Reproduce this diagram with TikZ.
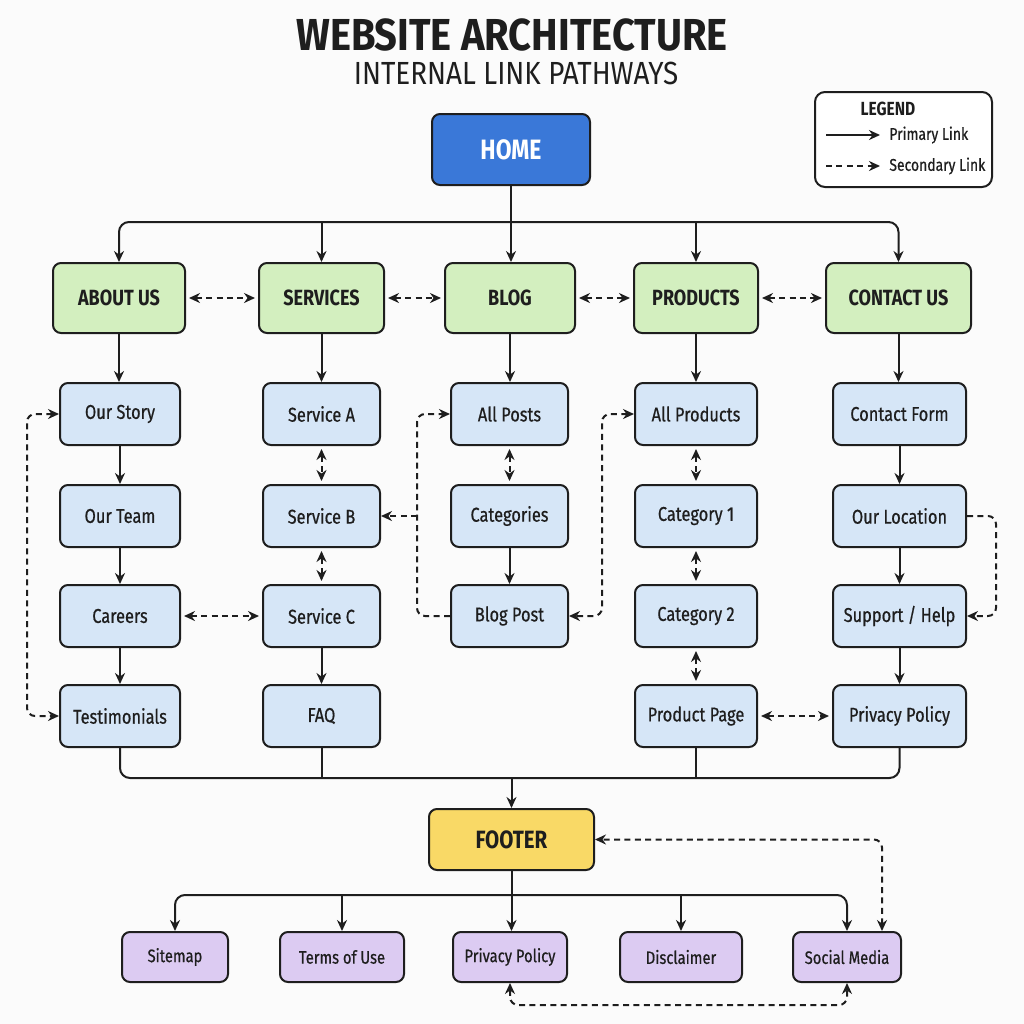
\documentclass[tikz,border=0pt]{standalone}
\usepackage{fontspec}
\setmainfont{Fira Sans}[FakeStretch=0.82]
\newfontfamily\medfont{Fira Sans}[FakeStretch=0.82,FakeBold=0.6]
\newfontfamily\headfont{Fira Sans}[FakeStretch=0.89]
\newfontfamily\subheadfont{Fira Sans}[FakeStretch=0.87]
\usetikzlibrary{arrows.meta,calc}

\definecolor{homeblue}{HTML}{3A78D8}
\definecolor{lvgreen}{HTML}{D3EFBF}
\definecolor{lvblue}{HTML}{D6E6F7}
\definecolor{ftyellow}{HTML}{F9D966}
\definecolor{lvpurple}{HTML}{DCCBF2}
\definecolor{ink}{HTML}{1E1E1E}
\definecolor{paper}{HTML}{FBFBFB}

\begin{document}
\begin{tikzpicture}[x=0.5pt,y=-0.5pt,
  box/.style={draw=ink,line width=1pt,rounded corners=4pt,inner sep=0pt,align=center,text=ink},
  toppage/.style={box,fill=lvgreen,minimum height=35pt,font=\fontsize{11}{13}\selectfont\bfseries},
  subpage/.style={box,fill=lvblue,minimum height=31pt,font=\medfont\fontsize{10}{12}\selectfont},
  footpage/.style={box,fill=lvpurple,minimum height=25pt,font=\medfont\fontsize{9}{11}\selectfont},
  tip/.tip={Stealth[length=5.5pt,width=5pt]},
  wire/.style={draw=ink,line width=1pt},
  link/.style={wire,-tip},
  xlink/.style={link,dash pattern=on 3pt off 2.2pt},
  xboth/.style={xlink,tip-tip,shorten <=1.5pt,shorten >=1.5pt},
]
% canvas
\path[fill=paper] (0,0) rectangle (1024,1024);

% headings
\node[font=\headfont\fontsize{22.4}{26}\selectfont\bfseries,text=ink] (title) at (512,35) {WEBSITE ARCHITECTURE};
\node[font=\subheadfont\fontsize{16}{19}\selectfont,text=ink] (subtitle) at (516,73) {INTERNAL LINK PATHWAYS};

% legend
\node[box,fill=white,minimum width=88.5pt,minimum height=47.5pt,rounded corners=5pt] (legend) at (903.5,139.5) {};
\node[font=\fontsize{9.5}{11}\selectfont\bfseries,text=ink] (legendtitle) at (888,109) {LEGEND};
\coordinate (lpa) at (826,135); \coordinate (lpb) at (880,135);
\coordinate (lsa) at (826,166); \coordinate (lsb) at (880,166);
\draw[link] (lpa) -- (lpb);
\draw[xlink] (lsa) -- (lsb);
\node[anchor=west,inner sep=0pt,font=\medfont\fontsize{8.5}{10}\selectfont,text=ink] (lprim) at (889,135) {Primary Link};
\node[anchor=west,inner sep=0pt,font=\medfont\fontsize{8.5}{10}\selectfont,text=ink] (lsec) at (889,166) {Secondary Link};

% home
\node[box,fill=homeblue,minimum width=79pt,minimum height=35.5pt,text=white,
      font=\fontsize{14}{16}\selectfont\bfseries] (home) at (511,149.5) {HOME};

% main sections
\node[toppage,minimum width=66pt]   (about)    at (119,298)   {ABOUT US};
\node[toppage,minimum width=62.5pt] (services) at (321.5,298) {SERVICES};
\node[toppage,minimum width=65pt]   (blog)     at (510,298)   {BLOG};
\node[toppage,minimum width=62pt]   (products) at (696,298)   {PRODUCTS};
\node[toppage,minimum width=72.5pt] (contact)  at (898.5,298) {CONTACT US};

% sub pages
\node[subpage,minimum width=60pt] (story)  at (120,414) {Our Story};
\node[subpage,minimum width=60pt] (team)   at (120,516) {Our Team};
\node[subpage,minimum width=60pt] (career) at (120,616) {Careers};
\node[subpage,minimum width=60pt] (testi)  at (120,716) {Testimonials};

\node[subpage,minimum width=58.5pt] (sva) at (321.5,414) {Service A};
\node[subpage,minimum width=58.5pt] (svb) at (321.5,516) {Service B};
\node[subpage,minimum width=58.5pt] (svc) at (321.5,616) {Service C};
\node[subpage,minimum width=58.5pt] (faq) at (321.5,716) {FAQ};

\node[subpage,minimum width=58.5pt] (posts) at (509.5,414) {All Posts};
\node[subpage,minimum width=58.5pt] (cats)  at (509.5,516) {Categories};
\node[subpage,minimum width=58.5pt] (post)  at (509.5,616) {Blog Post};

\node[subpage,minimum width=61pt] (allprod) at (696,414) {All Products};
\node[subpage,minimum width=61pt] (cat1)    at (696,516) {Category 1};
\node[subpage,minimum width=61pt] (cat2)    at (696,616) {Category 2};
\node[subpage,minimum width=61pt] (prodpg)  at (696,716) {Product Page};

\node[subpage,minimum width=66.5pt] (form)    at (899.5,414) {Contact Form};
\node[subpage,minimum width=66.5pt] (locat)   at (899.5,516) {Our Location};
\node[subpage,minimum width=66.5pt] (support) at (899.5,616) {Support / Help};
\node[subpage,minimum width=66.5pt] (privacy) at (899.5,716) {Privacy Policy};

% footer
\node[box,fill=ftyellow,minimum width=82.5pt,minimum height=30.5pt,
      font=\fontsize{12.5}{14}\selectfont\bfseries] (footer) at (511.5,839.5) {FOOTER};

\node[footpage,minimum width=53pt] (sitemap) at (175,957) {Sitemap};
\node[footpage,minimum width=62pt] (terms)   at (342,957) {Terms of Use};
\node[footpage,minimum width=57pt] (fpriv)   at (510,957) {Privacy Policy};
\node[footpage,minimum width=61pt] (discl)   at (681,957) {Disclaimer};
\node[footpage,minimum width=54pt] (social)  at (847,957) {Social Media};

% home to sections
\coordinate (topbus) at (0,222);
\draw[wire,rounded corners=5pt,tip-tip] (about.north) -- (about.north |- topbus)
      -- (contact.north |- topbus) -- (contact.north);
\draw[link] (services.north |- topbus) -- (services.north);
\draw[link] (products.north |- topbus) -- (products.north);
\draw[link] (home.south) -- (home.south |- blog.north);

% sideways links between sections
\draw[xboth] (about.east) -- (services.west);
\draw[xboth] (services.east) -- (blog.west);
\draw[xboth] (blog.east) -- (products.west);
\draw[xboth] (products.east) -- (contact.west);

% sections to first sub page
\draw[link] (about.south) -- (about.south |- story.north);
\draw[link] (services.south) -- (sva.north);
\draw[link] (blog.south) -- (blog.south |- posts.north);
\draw[link] (products.south) -- (allprod.north);
\draw[link] (contact.south) -- (contact.south |- form.north);

% about column
\draw[link] (story) -- (team);
\draw[link] (team) -- (career);
\draw[link] (career) -- (testi);
\draw[xlink,tip-tip,rounded corners=4pt] (story.west) -- ++(-32,0) |- (testi.west);

% services column
\draw[xboth] (sva) -- (svb);
\draw[xboth] (svb) -- (svc);
\draw[link] (svc) -- (faq);
\draw[xboth] (career.east) -- (svc.west);

% blog column
\draw[xboth] (posts) -- (cats);
\draw[link] (cats) -- (post);
\coordinate (bj) at ($(post.west)+(-33,0)$);
\draw[xlink,rounded corners=4pt] (post.west) -- (bj) |- (posts.west);
\draw[xlink] (bj |- svb.east) -- (svb.east);

% products column
\draw[xboth] (allprod) -- (cat1);
\draw[xboth] (cat1) -- (cat2);
\draw[xboth] (cat2) -- (prodpg);
\draw[xlink,tip-tip,rounded corners=4pt] (allprod.west) -- ++(-32,0) |- (post.east);

% contact column
\draw[link] (form) -- (locat);
\draw[link] (locat) -- (support);
\draw[link] (support) -- (privacy);
\draw[xlink,rounded corners=4pt] (locat.east) -- ++(29,0) |- (support.east);
\draw[xboth] (prodpg.east) -- (privacy.west);

% columns gather into the footer
\coordinate (lowbus) at (0,778);
\draw[wire,rounded corners=5pt] (testi.south) -- (testi.south |- lowbus)
      -- (privacy.south |- lowbus) -- (privacy.south);
\draw[wire] (faq.south) -- (faq.south |- lowbus);
\draw[wire] (prodpg.south) -- (prodpg.south |- lowbus);
\draw[link] (footer.north |- lowbus) -- (footer.north);

% footer to its pages
\coordinate (footbus) at (0,895);
\draw[wire,rounded corners=5pt,tip-tip] (sitemap.north) -- (sitemap.north |- footbus)
      -- (social.north |- footbus) -- (social.north);
\draw[link] (terms.north |- footbus) -- (terms.north);
\draw[link] (discl.north |- footbus) -- (discl.north);
\draw[link] (footer.south) -- (footer.south |- fpriv.north);

% secondary footer links
\draw[xlink,tip-tip,rounded corners=4pt] ($(social.north)+(35,0)$) |- (footer.east);
\draw[xlink,tip-tip,rounded corners=4pt] (fpriv.south) -- ++(0,22) -| (social.south);
\end{tikzpicture}
\end{document}
